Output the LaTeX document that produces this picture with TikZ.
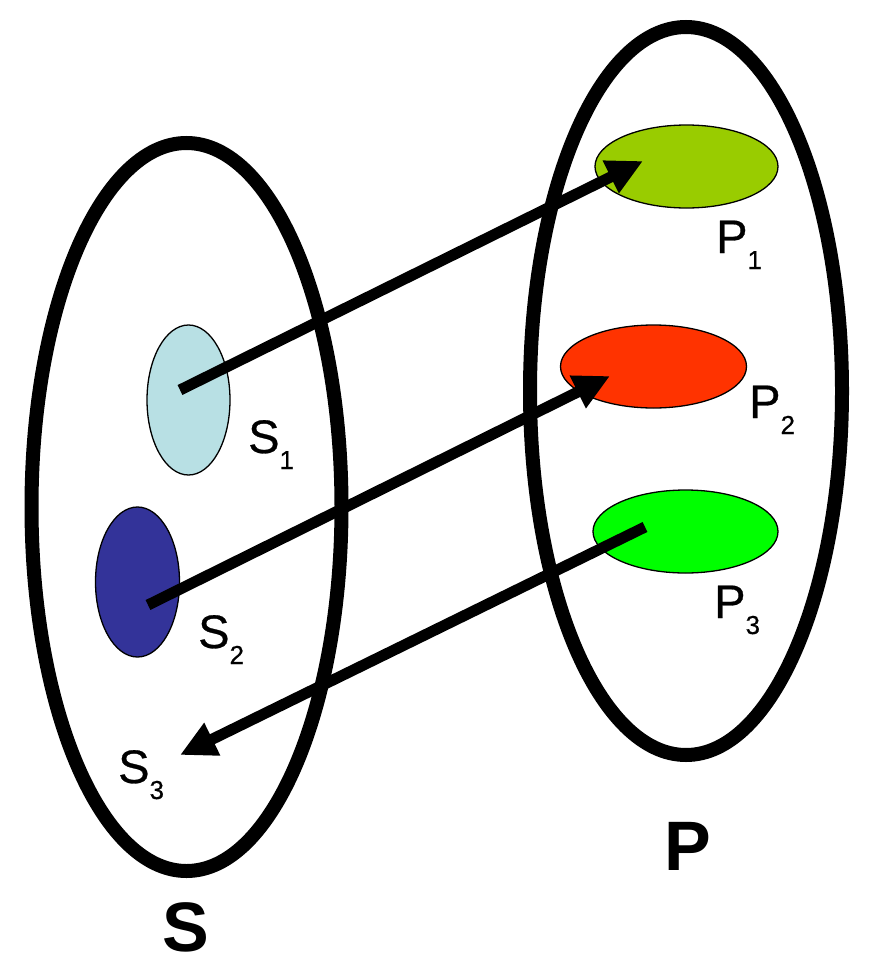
\documentclass[tikz,border=0pt]{standalone}
\usepackage{fontspec}
\setmainfont{Liberation Sans}
\newfontfamily\lblfont[FakeBold=0.6]{Liberation Sans}
\usetikzlibrary{shapes.geometric,arrows.meta}
\definecolor{sone}{HTML}{B8E0E4}
\definecolor{stwo}{HTML}{333399}
\definecolor{pone}{HTML}{99CC00}
\definecolor{ptwo}{HTML}{FF3300}
\definecolor{pthree}{HTML}{00FF00}
\newcommand{\sublbl}[2]{\lblfont\fontsize{47}{47}\selectfont #1\raisebox{-16pt}{\fontsize{26}{26}\selectfont #2}}
\tikzset{
  bigset/.style={ellipse, draw=black, line width=14pt, inner sep=0pt},
  elem/.style={ellipse, draw=black, line width=1.3pt, inner sep=0pt},
  lbl/.style={inner sep=0pt, anchor=base west},
  setlbl/.style={inner sep=0pt, anchor=base, font=\fontsize{70}{70}\selectfont\bfseries},
  maparrow/.style={line width=11pt, line cap=butt, -{Triangle[length=36pt,width=34pt]}}
}
\begin{document}
\begin{tikzpicture}[x=1pt,y=-1pt]
\useasboundingbox[fill=white] (0,0) rectangle (872,974);
% big sets
\node[bigset, minimum width=310pt, minimum height=728pt] (S) at (186.5,507) {};
\node[bigset, minimum width=312pt, minimum height=728pt] (P) at (686,391) {};
% elements
\node[elem, fill=sone, minimum width=83pt, minimum height=150pt] (s1) at (188.5,400) {};
\node[elem, fill=stwo, minimum width=84pt, minimum height=150pt] (s2) at (137.5,582) {};
\node[elem, fill=pone, minimum width=183pt, minimum height=83pt] (p1) at (686.5,166.5) {};
\node[elem, fill=ptwo, minimum width=186pt, minimum height=83pt] (p2) at (653.5,366.5) {};
\node[elem, fill=pthree, minimum width=185pt, minimum height=83pt] (p3) at (685.5,531.5) {};
% labels
\node[lbl] (ls1) at (248,453) {\sublbl{S}{1}};
\node[lbl] (ls2) at (198,648) {\sublbl{S}{2}};
\node[lbl] (ls3) at (118,783) {\sublbl{S}{3}};
\node[lbl] (lp1) at (716,253) {\sublbl{P}{1}};
\node[lbl] (lp2) at (749,418) {\sublbl{P}{2}};
\node[lbl] (lp3) at (714,618) {\sublbl{P}{3}};
\node[setlbl] (lS) at (186,951) {S};
\node[setlbl] (lP) at (688,870) {P};
% arrow end points
\coordinate (a1s) at (180,390);
\coordinate (a1e) at (643,161);
\coordinate (a2s) at (148,605);
\coordinate (a2e) at (610,376);
\coordinate (a3s) at (645,527);
\coordinate (a3e) at (180,755);
\draw[maparrow] (a1s) -- (a1e);
\draw[maparrow] (a2s) -- (a2e);
\draw[maparrow] (a3s) -- (a3e);
\end{tikzpicture}
\end{document}
